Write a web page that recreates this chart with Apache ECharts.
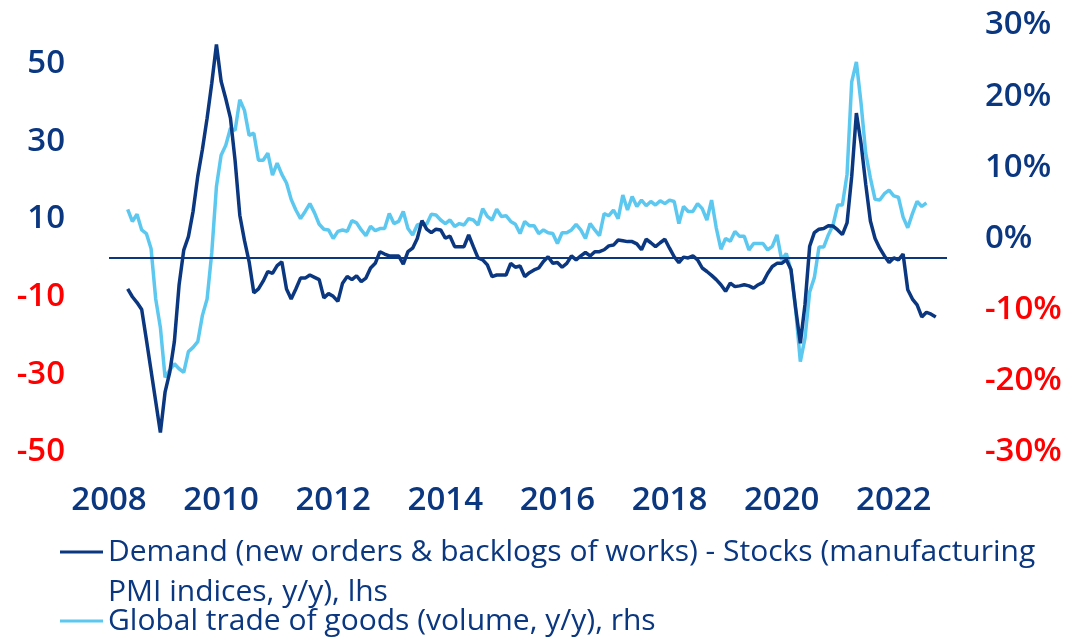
<!DOCTYPE html>
<html>
<head>
<meta charset="utf-8">
<script src="https://cdn.jsdelivr.net/npm/echarts@6/dist/echarts.min.js"></script>
<style>
html,body{margin:0;padding:0;background:#fff;}
#chart{width:1068px;height:638px;}
</style>
</head>
<body>
<div id="chart"></div>
<script>
// ---- DATA ----
// monthly observations, first one = May 2008
const startYear = 2008;
const startMonth = 5;
const demandName = 'Demand (new orders & backlogs of works) - Stocks (manufacturing PMI indices, y/y), lhs';
const tradeName = 'Global trade of goods (volume, y/y), rhs';
// lhs: demand - stocks (PMI indices, y/y)
const demandValues = [
  -8.0, -10.0, -11.5, -13.3, -21, -29, -37, -45,
  -34.6, -29.5, -21.5, -7, 2, 5.5, 12, 21, 28, 36, 45, 55,
  45.5, 41, 36, 25, 11, 4.5, -1, -9, -8, -6, -3.5, -4,
  -2, -1, -8, -10.6, -8, -5.2, -5.2, -4.4, -5, -5.6, -10.3, -9.2,
  -9.9, -11.2, -6.5, -4.8, -5.6, -4.6, -6.1, -5.2, -2.6, -1.4, 1.6, 1.0,
  0.5, 0.5, 0.5, -1.6, 1.6, 2.5, 5, 9.6, 7.4, 6.5, 7.4, 7.2,
  5.1, 5.6, 2.9, 2.9, 2.9, 5.9, 2.9, 0, -0.5, -1.8, -4.8, -4.4,
  -4.4, -4.4, -1.4, -2.4, -2.1, -4.8, -3.8, -3.1, -2.6, -0.9, 0.3, -1.4,
  -1.2, -2.4, -1.4, 0.5, -0.5, 0.5, 1.4, 0.5, 1.6, 1.6, 2.1, 3.1,
  3.3, 4.6, 4.4, 4.2, 4.2, 3.6, 2.1, 4.8, 3.9, 2.9, 3.9, 4.8,
  2.5, 0.3, -1.2, 0.2, 0, 0.5, -0.5, -2.6, -3.5, -4.5, -5.6, -6.9,
  -8.6, -6.5, -7.4, -7.2, -6.9, -7.2, -7.8, -6.9, -6.3, -4, -2.2, -1.4,
  -1.4, -0.5, -3, -13, -22, -12, 3, 6.5, 7.4, 7.6, 8.3, 8.2,
  7.2, 6, 9, 21, 37.3, 29.5, 19, 9.5, 5, 2.5, 0.5, -1.2,
  0, -0.5, 1.0, -8.2, -10.6, -12.1, -15.2, -14, -14.5, -15.2
];
// rhs: global trade of goods (volume, y/y), %
const tradeValues = [
  4.1, 2.4, 3.4, 1.2, 0.7, -1.4, -8.5, -12.5,
  -19.5, -18.5, -17.6, -18.3, -18.8, -15.9, -15.3, -14.5, -10.8, -8.5, -2, 7.3,
  11.7, 13.1, 15.5, 15.2, 19.5, 18, 14.5, 14.8, 11, 11, 12, 8.9,
  10.6, 9, 7.8, 5.5, 4, 2.8, 3.8, 4.9, 3.6, 2, 1.3, 1.2,
  0, 1, 1.2, 1, 2.5, 2.2, 1.2, 0.4, 1.7, 1.1, 1.4, 1.4,
  3.5, 2.1, 2.4, 3.8, 1.4, 0.5, 1.9, 2.1, 2, 3.4, 3.3, 2.6,
  2.1, 2.6, 1.7, 2.1, 1.9, 2.8, 2.6, 1.9, 4.2, 3.1, 2.6, 4.1,
  3.1, 3.2, 2.4, 2, 0.7, 2.4, 1.8, 1.8, 0.7, 1.2, 0.8, 0.7,
  -0.7, 0.8, 0.8, 1.2, 2, 1.2, 0, 2.1, 1.2, 0.4, 3.5, 3.2,
  4, 2.8, 6.1, 4, 5.9, 4.5, 5.4, 4.6, 5.2, 4.7, 5.3, 4.9,
  5.4, 5.2, 2.1, 4.5, 3.8, 3.8, 4.9, 4.2, 2.6, 5.4, 1.5, -1.5,
  0, -0.4, 1, 0.3, 0.3, -1.6, -0.7, -0.7, -0.7, -1.6, -1.1, 0.5,
  -3, -2.1, -4.5, -10, -17.3, -14, -7.5, -5.5, -1.2, -1.2, 0.5, 1.9,
  4.7, 4.7, 9, 22, 24.8, 19, 12, 8.5, 5.5, 5.4, 6.3, 6.8,
  6, 5.8, 3, 1.5, 3.5, 5.2, 4.5, 5
];
const yearTicks = [2008, 2010, 2012, 2014, 2016, 2018, 2020, 2022];
const lhsTicks = [-50, -30, -10, 10, 30, 50];
const rhsTicks = [-30, -20, -10, 0, 10, 20, 30];

// ---- BUILD ----
const NAVY = '#0a3780';
const LIGHT = '#5cc8f0';
const RED = '#ff0000';
const FONT = 'Open Sans';
const WEIGHT = 600;

function toPoints(vals) {
  return vals.map((v, i) => [startYear + (startMonth - 1 + i) / 12, v]);
}

const chart = echarts.init(document.getElementById('chart'), null, {renderer: 'canvas'});
chart.setOption({
  animation: false,
  backgroundColor: '#ffffff',
  grid: {left: 109, right: 121, top: 25, bottom: 186, containLabel: false},
  xAxis: {
    type: 'value', min: 2008, max: 2022.95, interval: 2,
    axisLine: {show: false}, axisTick: {show: false}, splitLine: {show: false},
    axisLabel: {
      margin: 32, fontFamily: FONT, fontSize: 33, fontWeight: WEIGHT, color: NAVY,
      showMaxLabel: false,
      formatter: v => yearTicks.indexOf(Math.round(v)) >= 0 && Math.abs(v - Math.round(v)) < 1e-6 ? String(Math.round(v)) : ''
    }
  },
  yAxis: [
    {
      type: 'value', min: -50, max: 60, interval: 20, position: 'left',
      axisLine: {show: false}, axisTick: {show: false}, splitLine: {show: false},
      axisLabel: {
        margin: 44, fontFamily: FONT, fontSize: 33, fontWeight: WEIGHT,
        color: v => (Number(v) < 0 ? RED : NAVY),
        formatter: v => lhsTicks.indexOf(v) >= 0 ? String(v) : ''
      }
    },
    {
      type: 'value', min: -30, max: 30, interval: 10, position: 'right',
      axisLine: {show: false}, axisTick: {show: false}, splitLine: {show: false},
      axisLabel: {
        margin: 38, fontFamily: FONT, fontSize: 33, fontWeight: WEIGHT,
        color: v => (Number(v) < 0 ? RED : NAVY),
        formatter: v => rhsTicks.indexOf(v) >= 0 ? v + '%' : ''
      }
    }
  ],
  legend: [
    {
      data: [demandName], left: 60, top: 492, padding: 0,
      icon: 'rect', itemWidth: 43, itemHeight: 3,
      formatter: n => ' \n' + n.replace(' PMI', '\nPMI'),
      textStyle: {fontFamily: FONT, fontSize: 30, fontWeight: 500, color: NAVY, lineHeight: 40}
    },
    {
      data: [tradeName], left: 60, top: 606, padding: 0,
      icon: 'rect', itemWidth: 43, itemHeight: 3,
      textStyle: {fontFamily: FONT, fontSize: 30, fontWeight: 500, color: NAVY, lineHeight: 30}
    }
  ],
  series: [
    {
      name: tradeName, type: 'line', yAxisIndex: 1, data: toPoints(tradeValues),
      symbol: 'none', showSymbol: false, color: LIGHT,
      lineStyle: {color: LIGHT, width: 3.5}, z: 2
    },
    {
      name: demandName, type: 'line', yAxisIndex: 0, data: toPoints(demandValues),
      symbol: 'none', showSymbol: false, color: NAVY,
      lineStyle: {color: NAVY, width: 3.5}, z: 3,
      markLine: {
        silent: true, symbol: 'none', label: {show: false},
        lineStyle: {color: NAVY, width: 2, type: 'solid'},
        data: [{yAxis: 0}]
      }
    }
  ]
});
</script>
</body>
</html>
